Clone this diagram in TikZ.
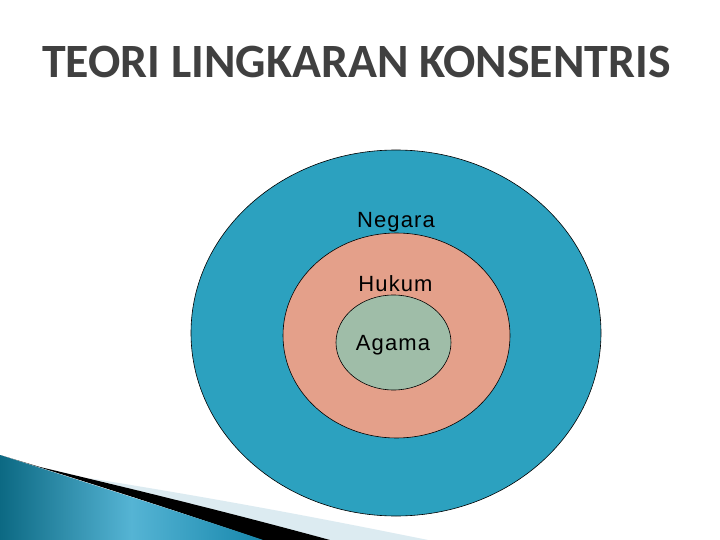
\documentclass[tikz,border=0pt]{standalone}
\usepackage{fontspec}
\setmainfont{Liberation Sans}
\newfontfamily\titlefont{Carlito}
\usetikzlibrary{shapes.geometric}
\definecolor{outerblue}{HTML}{2CA1BF}
\definecolor{midsalmon}{HTML}{E4A08A}
\definecolor{innergreen}{HTML}{9FBDA8}
\definecolor{titlegray}{HTML}{404040}
\definecolor{lightstripe}{HTML}{DCEBF1}
\definecolor{banddark}{HTML}{0C6983}
\definecolor{bandmid}{HTML}{55B4D4}
\definecolor{bandright}{HTML}{1787AC}
\tikzset{
  ring/.style={ellipse, draw=black, line width=0.6pt, inner sep=0pt},
  lbl/.style={anchor=base, inner sep=0pt, font={\fontsize{22}{24}\selectfont\addfontfeatures{LetterSpace=5}}},
  ttl/.style={anchor=base west, inner sep=0pt, font={\titlefont\bfseries\fontsize{47.8}{52}\selectfont}}
}
\begin{document}
\begin{tikzpicture}[x=1pt,y=-1pt]
\useasboundingbox (0,0) rectangle (720,540);
\fill[white] (0,0) rectangle (720,540);
% decorative swoosh
\fill[lightstripe] (88,478) .. controls (200,496) and (300,514) .. (428,540) -- (330,540) -- cycle;
\fill[black] (40,467) .. controls (120,486) and (220,510) .. (330,540) -- (262,540) .. controls (180,512) and (100,486) .. (0,455) -- cycle;
\shade[left color=banddark, right color=bandright, middle color=bandmid] (0,455) .. controls (90,484) and (180,512) .. (263,540) -- (0,540) -- cycle;
% title
\node[ttl, text=titlegray] (title) at (42,78) {TEORI LINGKARAN KONSENTRIS};
% circles
\node[ring, fill=outerblue, minimum width=410pt, minimum height=366pt] (outer) at (396,333) {};
\node[ring, fill=midsalmon, minimum width=227pt, minimum height=205pt] (middle) at (396.5,335.5) {};
\node[ring, fill=innergreen, minimum width=115pt, minimum height=95pt] (inner) at (393.5,342.5) {};
% labels
\node[lbl] (negara) at (396,227) {Negara};
\node[lbl] (hukum) at (395.5,291) {Hukum};
\node[lbl] (agama) at (393,350) {Agama};
\end{tikzpicture}
\end{document}
